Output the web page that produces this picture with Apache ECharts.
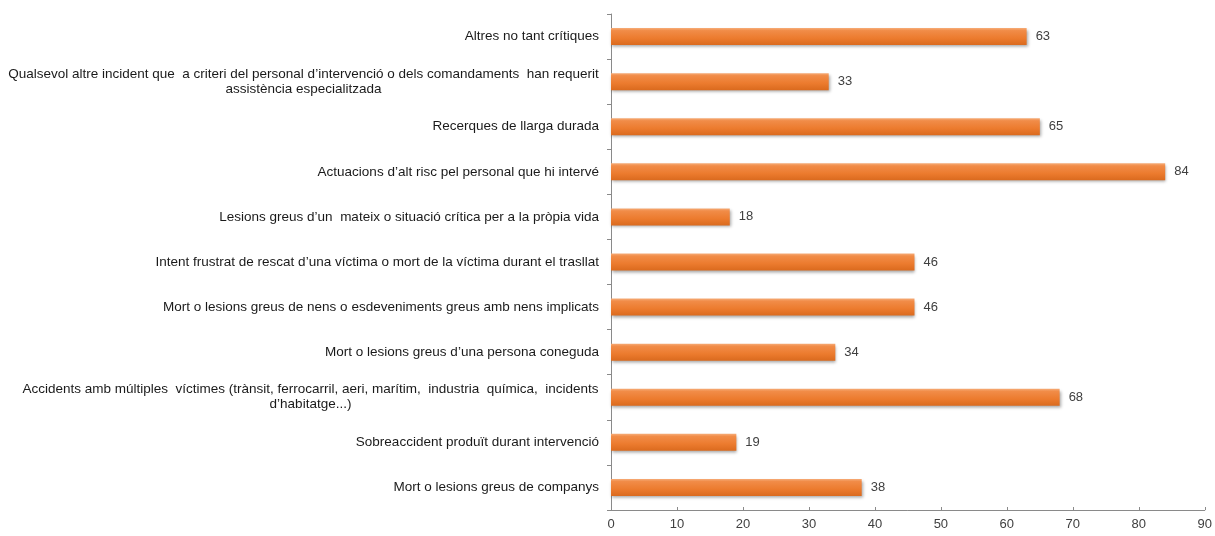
<!DOCTYPE html>
<html><head><meta charset="utf-8">
<script src="https://cdn.jsdelivr.net/npm/echarts@6/dist/echarts.min.js"></script>
<style>html,body{margin:0;padding:0;background:#fff}#c{width:1215px;height:536px}</style>
</head><body><div id="c"></div>
<script>
const categories = [
  "Altres no tant crítiques",
  "Qualsevol altre incident que  a criteri del personal d’intervenció o dels comandaments  han requerit\nassistència especialitzada",
  "Recerques de llarga durada",
  "Actuacions d’alt risc pel personal que hi intervé",
  "Lesions greus d’un  mateix o situació crítica per a la pròpia vida",
  "Intent frustrat de rescat d’una víctima o mort de la víctima durant el trasllat",
  "Mort o lesions greus de nens o esdeveniments greus amb nens implicats",
  "Mort o lesions greus d’una persona coneguda",
  "Accidents amb múltiples  víctimes (trànsit, ferrocarril, aeri, marítim,  industria  química,  incidents\nd’habitatge...)",
  "Sobreaccident produït durant intervenció",
  "Mort o lesions greus de companys"
];
const values = [63, 33, 65, 84, 18, 46, 46, 34, 68, 19, 38];
const xTicks = [0, 10, 20, 30, 40, 50, 60, 70, 80, 90];

const FAMILY = '"Liberation Sans", Arial, sans-serif';
const FS = 13.5;
const cv = document.createElement('canvas').getContext('2d');
cv.font = FS + 'px ' + FAMILY;
const rich = {};
const fmtLabel = (v, idx) => {
  const lines = v.split('\n');
  if (lines.length === 1) return v;
  const w = Math.ceil(cv.measureText(lines[0]).width);
  rich['l' + idx] = { width: w, align: 'center', fontSize: FS, fontFamily: FAMILY, color: '#1a1a1a', lineHeight: 15 };
  return lines.map(l => '{l' + idx + '|' + l + '}').join('\n');
};
const formatted = categories.map((c, i) => fmtLabel(c, i));

const chart = echarts.init(document.getElementById('c'));
chart.setOption({
  animation: false,
  backgroundColor: '#fff',
  grid: { left: 611, right: 10, top: 14, bottom: 26, containLabel: false },
  xAxis: {
    type: 'value', min: 0, max: 90, interval: 10,
    axisLine: { show: true, lineStyle: { color: '#8a8a8a' } },
    axisTick: { show: true, inside: true, length: 3, lineStyle: { color: '#8a8a8a' } },
    splitLine: { show: false },
    axisLabel: { color: '#404040', fontSize: 13, fontFamily: FAMILY, margin: 8,
      formatter: v => xTicks.includes(v) ? String(v) : '' }
  },
  yAxis: {
    type: 'category', inverse: true, data: categories,
    axisLine: { show: true, lineStyle: { color: '#8a8a8a' } },
    axisTick: { show: true, length: 4, lineStyle: { color: '#8a8a8a' } },
    axisLabel: {
      margin: 12, color: '#1a1a1a', fontSize: FS, lineHeight: 15,
      fontFamily: FAMILY,
      formatter: (v, i) => formatted[i], rich: rich
    }
  },
  series: [{
    type: 'bar', data: values, barWidth: 17,
    itemStyle: {
      color: new echarts.graphic.LinearGradient(0, 0, 0, 1, [
        { offset: 0, color: '#F6AC78' },
        { offset: 0.15, color: '#F18C48' },
        { offset: 0.6, color: '#EC7B2E' },
        { offset: 1, color: '#DA6A1E' }
      ]),
      shadowColor: 'rgba(0,0,0,0.35)', shadowBlur: 3, shadowOffsetX: 1, shadowOffsetY: 2
    },
    label: { show: true, position: 'right', distance: 9, color: '#404040', fontSize: 13,
      fontFamily: FAMILY }
  }]
});
</script></body></html>
